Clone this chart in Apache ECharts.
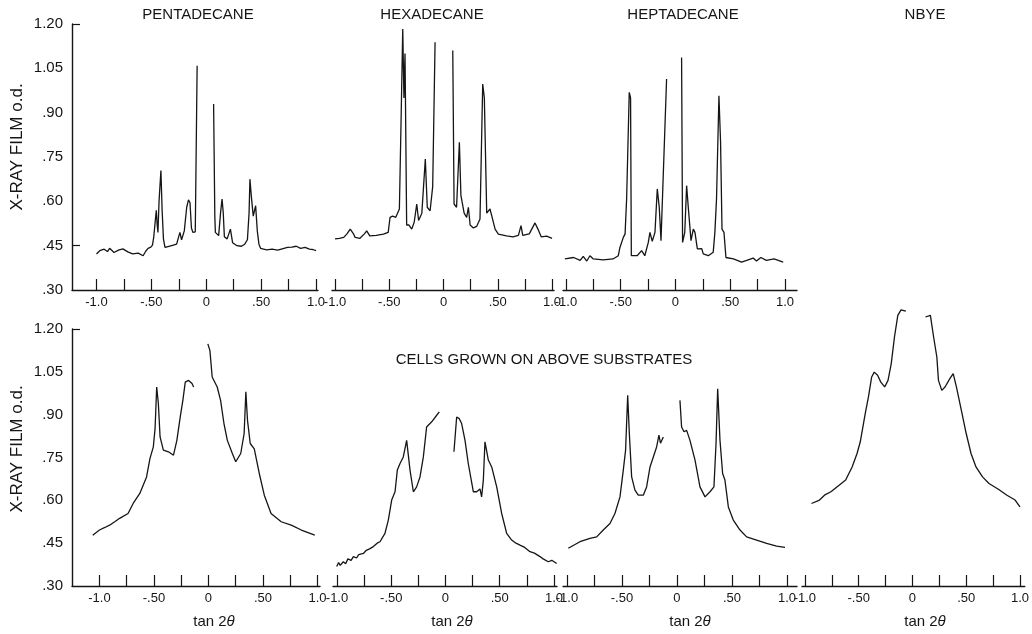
<!DOCTYPE html>
<html><head><meta charset="utf-8">
<script src="https://cdn.jsdelivr.net/npm/echarts@6/dist/echarts.min.js"></script>
<style>html,body{margin:0;padding:0;background:#fff}#c{width:1032px;height:634px}</style>
</head><body><div id="c"></div>
<script>
// ---- tick / label values ----
const xTickValues = [-1, -0.75, -0.5, -0.25, 0, 0.25, 0.5, 0.75, 1];
const xLabelValues = [-1, -0.5, 0, 0.5, 1];
const yLabelValues = [0.30, 0.45, 0.60, 0.75, 0.90, 1.05, 1.20];
const panelTitles = ['PENTADECANE', 'HEXADECANE', 'HEPTADECANE', 'NBYE'];
const subtitle = 'CELLS GROWN ON ABOVE SUBSTRATES';
const yName = 'X-RAY FILM o.d.';
const xName = 'tan 2θ';

// ---- substrate traces (top row): [tan 2θ, o.d.], null = beam-stop gap ----
const pentadecane = [[-1.00,0.422],[-0.97,0.433],[-0.93,0.438],[-0.90,0.430],[-0.88,0.441],[-0.84,0.427],[-0.80,0.435],[-0.76,0.439],[-0.71,0.428],[-0.67,0.422],[-0.62,0.425],[-0.575,0.416],[-0.55,0.432],[-0.53,0.441],[-0.505,0.445],[-0.49,0.452],[-0.478,0.48],[-0.468,0.52],[-0.455,0.57],[-0.447,0.52],[-0.44,0.495],[-0.43,0.60],[-0.413,0.704],[-0.402,0.57],[-0.39,0.473],[-0.376,0.444],[-0.34,0.448],[-0.30,0.452],[-0.27,0.455],[-0.24,0.495],[-0.225,0.47],[-0.20,0.50],[-0.178,0.58],[-0.162,0.605],[-0.148,0.595],[-0.135,0.51],[-0.122,0.495],[-0.10,0.497],[-0.088,0.50],[-0.083,1.059],[0,null],[0.067,0.929],[0.078,0.55],[0.083,0.495],[0.10,0.49],[0.113,0.484],[0.13,0.56],[0.144,0.608],[0.155,0.56],[0.165,0.48],[0.19,0.473],[0.22,0.506],[0.24,0.46],[0.28,0.45],[0.32,0.448],[0.35,0.455],[0.375,0.47],[0.39,0.56],[0.398,0.675],[0.41,0.62],[0.428,0.55],[0.45,0.585],[0.465,0.50],[0.48,0.455],[0.495,0.441],[0.55,0.436],[0.60,0.438],[0.65,0.435],[0.70,0.440],[0.74,0.444],[0.78,0.445],[0.82,0.448],[0.86,0.441],[0.90,0.444],[0.94,0.438],[0.97,0.437],[1.00,0.433]];

const hexadecane = [[-1.00,0.473],[-0.96,0.475],[-0.92,0.478],[-0.89,0.49],[-0.86,0.506],[-0.83,0.49],[-0.815,0.478],[-0.77,0.475],[-0.73,0.49],[-0.708,0.50],[-0.68,0.483],[-0.62,0.485],[-0.554,0.489],[-0.51,0.495],[-0.493,0.546],[-0.47,0.55],[-0.44,0.546],[-0.407,0.574],[-0.39,0.90],[-0.376,1.183],[-0.365,0.95],[-0.355,1.10],[-0.345,1.104],[-0.34,0.52],[-0.32,0.52],[-0.293,0.506],[-0.27,0.53],[-0.247,0.591],[-0.23,0.535],[-0.20,0.56],[-0.168,0.743],[-0.15,0.58],[-0.124,0.568],[-0.10,0.65],[-0.078,1.138],[0,null],[0.085,1.11],[0.097,0.591],[0.12,0.58],[0.146,0.80],[0.16,0.62],[0.19,0.56],[0.213,0.546],[0.229,0.58],[0.245,0.52],[0.275,0.51],[0.305,0.515],[0.336,0.54],[0.361,0.997],[0.376,0.95],[0.398,0.56],[0.428,0.574],[0.445,0.55],[0.475,0.506],[0.505,0.489],[0.58,0.483],[0.64,0.480],[0.69,0.485],[0.714,0.518],[0.73,0.485],[0.79,0.49],[0.843,0.527],[0.87,0.506],[0.90,0.48],[0.95,0.482],[1.00,0.475]];

const heptadecane = [[-1.01,0.405],[-0.93,0.41],[-0.87,0.40],[-0.842,0.414],[-0.81,0.398],[-0.781,0.416],[-0.75,0.405],[-0.66,0.402],[-0.57,0.405],[-0.522,0.416],[-0.507,0.444],[-0.476,0.478],[-0.46,0.49],[-0.446,0.608],[-0.422,0.969],[-0.41,0.95],[-0.403,0.416],[-0.35,0.416],[-0.309,0.433],[-0.28,0.416],[-0.248,0.461],[-0.233,0.495],[-0.212,0.465],[-0.187,0.495],[-0.166,0.642],[-0.148,0.58],[-0.132,0.467],[-0.117,0.47],[-0.081,1.014],[0,null],[0.056,1.087],[0.065,0.461],[0.085,0.495],[0.102,0.653],[0.117,0.58],[0.142,0.467],[0.163,0.506],[0.178,0.495],[0.20,0.439],[0.24,0.44],[0.254,0.422],[0.30,0.416],[0.345,0.428],[0.36,0.495],[0.375,0.608],[0.397,0.957],[0.412,0.80],[0.425,0.506],[0.443,0.495],[0.461,0.41],[0.53,0.405],[0.604,0.394],[0.65,0.40],[0.71,0.408],[0.74,0.398],[0.78,0.41],[0.83,0.40],[0.90,0.405],[0.984,0.394]];

// ---- cells grown on the substrates (bottom row) ----
const cellsPenta = [[-1.062,0.478],[-1.0,0.496],[-0.95,0.505],[-0.907,0.513],[-0.86,0.525],[-0.815,0.537],[-0.738,0.554],[-0.691,0.589],[-0.63,0.624],[-0.568,0.682],[-0.537,0.746],[-0.506,0.787],[-0.49,0.851],[-0.475,0.997],[-0.46,0.94],[-0.444,0.822],[-0.414,0.776],[-0.367,0.77],[-0.321,0.758],[-0.29,0.81],[-0.259,0.892],[-0.235,0.95],[-0.213,1.014],[-0.182,1.02],[-0.151,1.009],[-0.136,0.997],[-0.07,null],[-0.006,1.148],[0.013,1.125],[0.034,1.032],[0.08,0.997],[0.111,0.95],[0.142,0.869],[0.173,0.81],[0.219,0.764],[0.25,0.735],[0.296,0.764],[0.327,0.834],[0.343,0.98],[0.358,0.88],[0.383,0.799],[0.42,0.78],[0.466,0.694],[0.512,0.618],[0.574,0.554],[0.667,0.525],[0.759,0.513],[0.852,0.496],[0.975,0.478]];

const cellsHexa = [[-1.003,0.368],[-0.985,0.382],[-0.97,0.372],[-0.942,0.385],[-0.92,0.378],[-0.90,0.395],[-0.87,0.39],[-0.849,0.403],[-0.82,0.398],[-0.80,0.41],[-0.757,0.414],[-0.73,0.425],[-0.70,0.43],[-0.665,0.438],[-0.63,0.45],[-0.604,0.455],[-0.558,0.484],[-0.527,0.531],[-0.496,0.601],[-0.465,0.63],[-0.444,0.706],[-0.419,0.729],[-0.389,0.752],[-0.358,0.81],[-0.327,0.706],[-0.296,0.63],[-0.266,0.647],[-0.235,0.682],[-0.204,0.752],[-0.174,0.857],[-0.127,0.875],[-0.081,0.898],[-0.057,0.91],[0.01,null],[0.078,0.77],[0.103,0.892],[0.127,0.886],[0.149,0.869],[0.18,0.81],[0.21,0.729],[0.257,0.63],[0.287,0.63],[0.318,0.64],[0.333,0.612],[0.349,0.671],[0.364,0.805],[0.395,0.741],[0.426,0.717],[0.472,0.647],[0.518,0.554],[0.564,0.484],[0.61,0.461],[0.65,0.45],[0.687,0.443],[0.73,0.435],[0.779,0.42],[0.82,0.415],[0.871,0.403],[0.90,0.395],[0.948,0.385],[0.98,0.39],[1.025,0.379]];

const cellsHepta = [[-0.988,0.432],[-0.882,0.455],[-0.791,0.467],[-0.73,0.472],[-0.67,0.496],[-0.609,0.519],[-0.564,0.554],[-0.518,0.612],[-0.488,0.706],[-0.467,0.776],[-0.448,0.968],[-0.433,0.834],[-0.412,0.682],[-0.382,0.636],[-0.352,0.618],[-0.306,0.618],[-0.276,0.647],[-0.245,0.717],[-0.215,0.752],[-0.185,0.787],[-0.164,0.828],[-0.15,0.80],[-0.124,0.822],[-0.05,null],[0.027,0.95],[0.042,0.857],[0.064,0.84],[0.088,0.845],[0.118,0.81],[0.164,0.741],[0.209,0.647],[0.255,0.612],[0.3,0.63],[0.336,0.647],[0.355,0.799],[0.37,0.991],[0.391,0.81],[0.415,0.694],[0.436,0.671],[0.467,0.577],[0.512,0.531],[0.573,0.496],[0.633,0.472],[0.724,0.461],[0.815,0.449],[0.906,0.44],[0.982,0.435]];

const cellsNbye = [[-0.939,0.589],[-0.864,0.601],[-0.818,0.618],[-0.758,0.63],[-0.682,0.653],[-0.621,0.671],[-0.561,0.717],[-0.515,0.764],[-0.485,0.805],[-0.439,0.904],[-0.409,0.962],[-0.379,1.032],[-0.355,1.049],[-0.324,1.038],[-0.294,1.014],[-0.258,0.997],[-0.227,1.02],[-0.197,1.079],[-0.167,1.172],[-0.136,1.248],[-0.106,1.267],[-0.061,1.263],[0.03,null],[0.121,1.242],[0.167,1.248],[0.197,1.172],[0.227,1.102],[0.242,1.02],[0.273,0.985],[0.303,0.997],[0.348,1.026],[0.379,1.044],[0.409,0.997],[0.455,0.915],[0.5,0.834],[0.545,0.764],[0.591,0.717],[0.652,0.682],[0.712,0.659],[0.803,0.638],[0.879,0.618],[0.955,0.601],[1.0,0.577]];

// ---- layout (pixel geometry of each panel) ----
const FONT = 'Liberation Sans';
const INK = '#151515';
const panels = [
  {data: pentadecane, left: 72,  top: 24,  width: 246, height: 266, min: -1.223, max: 1.018, yAxis: true,  yTicks: [1.2, 0.45]},
  {data: hexadecane,  left: 332, top: 24,  width: 222, height: 266, min: -1.028, max: 1.018},
  {data: heptadecane, left: 563, top: 24,  width: 234, height: 266, min: -1.027, max: 1.110},
  {data: cellsPenta,  left: 72,  top: 329, width: 248, height: 257, min: -1.252, max: 1.023, yAxis: true, yTicks: [1.2]},
  {data: cellsHexa,   left: 333, top: 329, width: 224, height: 257, min: -1.037, max: 1.028},
  {data: cellsHepta,  left: 563, top: 329, width: 234, height: 257, min: -1.036, max: 1.091},
  {data: cellsNbye,   left: 802, top: 329, width: 228, height: 257, min: -1.027, max: 1.045, noClip: true}
];

function fmtX(v) {
  if (Math.abs(v) < 1e-9) return '0';
  const a = Math.abs(v);
  const s = a >= 1 ? a.toFixed(1) : a.toFixed(2).replace(/^0/, '');
  return (v < 0 ? '-' : '') + s;
}
function fmtY(v) {
  const s = v.toFixed(2);
  return s.charAt(0) === '0' ? s.slice(1) : s;
}

const grid = [], xAxis = [], yAxis = [], series = [];
panels.forEach((p, i) => {
  grid.push({left: p.left, top: p.top, width: p.width, height: p.height, containLabel: false});
  xAxis.push({
    type: 'value', gridIndex: i, min: p.min, max: p.max,
    axisLine: {show: true, onZero: false, lineStyle: {color: INK, width: 1.4}},
    axisTick: {show: true, inside: true, length: 11, customValues: xTickValues, lineStyle: {color: INK, width: 1.2}},
    axisLabel: {show: true, customValues: xLabelValues, formatter: fmtX, color: INK, fontFamily: FONT, fontSize: 13, margin: 6, hideOverlap: false},
    splitLine: {show: false}
  });
  yAxis.push({
    type: 'value', gridIndex: i, min: 0.30, max: 1.20, show: !!p.yAxis,
    axisLine: {show: true, onZero: false, lineStyle: {color: INK, width: 1.4}},
    axisTick: {show: true, inside: true, length: 8, customValues: p.yTicks || [], lineStyle: {color: INK, width: 1.2}},
    axisLabel: {show: true, customValues: yLabelValues, formatter: fmtY, color: INK, fontFamily: FONT, fontSize: 15, margin: 9},
    splitLine: {show: false}
  });
  series.push({
    type: 'line', xAxisIndex: i, yAxisIndex: i, data: p.data,
    showSymbol: false, symbol: 'none', connectNulls: false, clip: !p.noClip,
    lineStyle: {color: INK, width: 1.3}, animation: false, silent: true
  });
});

const titleX = [198, 432, 683, 925];
const nameX = [214, 452, 690, 925];
const graphic = [];
panelTitles.forEach((t, i) => graphic.push({type: 'text', x: titleX[i], y: 15,
  style: {text: t, fill: INK, font: '15px "' + FONT + '"', textAlign: 'center', textVerticalAlign: 'middle'}}));
graphic.push({type: 'text', x: 544, y: 360,
  style: {text: subtitle, fill: INK, font: '15px "' + FONT + '"', textAlign: 'center', textVerticalAlign: 'middle'}});
[147, 449].forEach(cy => graphic.push({type: 'text', x: 17, y: cy, rotation: Math.PI / 2,
  style: {text: yName, fill: INK, font: '17px "' + FONT + '"', textAlign: 'center', textVerticalAlign: 'middle'}}));
nameX.forEach(cx => graphic.push({type: 'text', x: cx, y: 622,
  style: {text: '{a|tan 2}{b|θ}', fill: INK, textAlign: 'center', textVerticalAlign: 'middle',
    rich: {a: {fontFamily: FONT, fontSize: 15, fill: INK}, b: {fontFamily: FONT, fontSize: 15, fontStyle: 'italic', fill: INK}}}}));

const chart = echarts.init(document.getElementById('c'), null, {renderer: 'canvas'});
chart.setOption({backgroundColor: '#fff', animation: false, grid, xAxis, yAxis, series, graphic});
</script></body></html>
